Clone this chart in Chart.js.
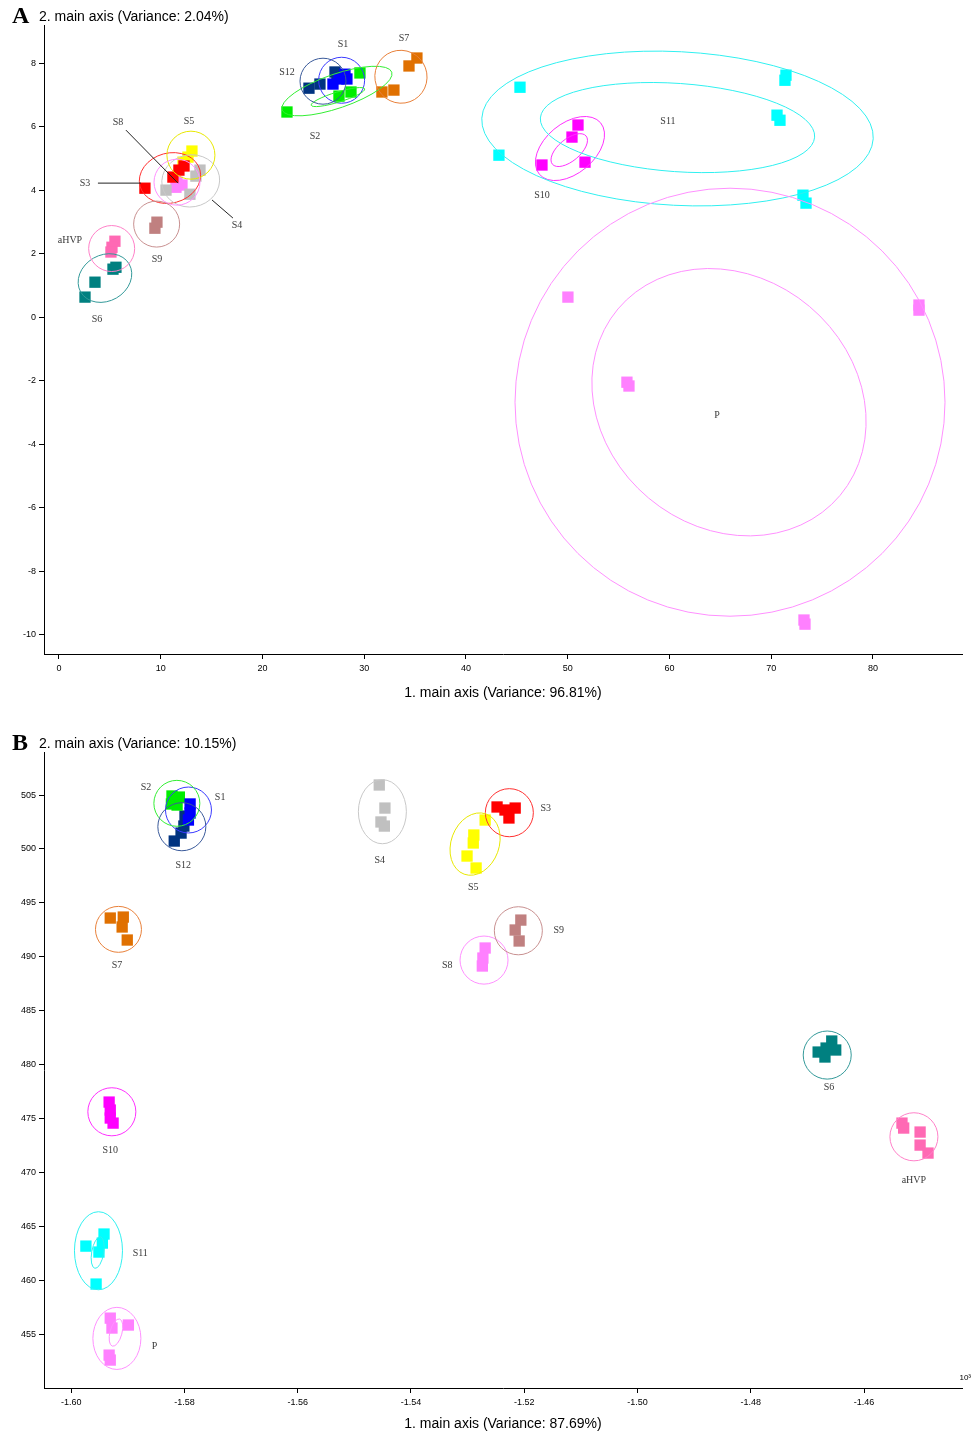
<!DOCTYPE html>
<html><head><meta charset="utf-8">
<script src="https://cdn.jsdelivr.net/npm/chart.js@4.4.1/dist/chart.umd.min.js"></script>
<style>
html,body{margin:0;padding:0;background:#fff;}
#wrap{position:relative;width:973px;height:1433px;overflow:hidden;}
canvas{position:absolute;left:0;}
</style></head><body>
<div id="wrap">
<canvas id="cA" width="973" height="716" style="top:0"></canvas>
<canvas id="cB" width="973" height="717" style="top:716px"></canvas>
</div>
<script>
// ---------- categories ----------
const groups = ['S1','S2','S3','S4','S5','S6','S7','S8','S9','S10','S11','S12','aHVP','P'];

// ---------- Panel A ----------
const A_x = [
  [26.93,27.52,28.11,28.30],
  [22.41,27.52,28.70,29.58],
  [8.45,11.20,11.79,12.29],
  [10.52,12.87,13.86,13.46],
  [13.07,12.68,12.19],
  [5.60,5.31,3.54,2.56],
  [34.40,35.18,31.74,32.92],
  [11.60,12.09,11.50],
  [9.43,9.63],
  [51.01,50.42,47.47,51.70],
  [45.31,71.35,71.45,70.57,70.86,43.24,73.12,73.42],
  [24.57,25.65,27.13,27.32],
  [5.50,5.21,5.11],
  [50.02,55.82,56.02,84.52,84.52,73.22,73.32]
];
const A_y = [
  [7.34,7.50,7.65,7.50],
  [6.46,6.96,7.09,7.69],
  [4.06,4.41,4.63,4.76],
  [4.00,3.87,4.63,4.44],
  [5.23,5.04,4.88],
  [1.57,1.51,1.10,0.63],
  [7.91,8.16,7.09,7.15],
  [4.25,4.16,4.09],
  [2.80,2.99],
  [6.05,5.67,4.79,4.88],
  [7.24,7.46,7.62,6.36,6.20,5.10,3.84,3.59],
  [7.21,7.34,7.72,7.56],
  [2.39,2.20,2.05],
  [0.63,-2.05,-2.17,0.38,0.22,-9.54,-9.67]
];
// ellipses: [group, centre x, centre y, semi-axis x-units, semi-axis y-units, tilt deg]
const A_ell = [
  [0,27.78,7.46,2.26,0.724,0],
  [1,27.32,7.12,5.70,0.535,-19],
  [1,27.42,6.93,2.75,0.16,-17],
  [2,10.91,4.38,3.05,0.787,-15],
  [3,12.95,4.29,2.85,0.82,-10],
  [4,12.97,5.10,2.36,0.756,0],
  [5,4.52,1.23,2.75,0.724,-30],
  [6,33.61,7.57,2.56,0.835,-20],
  [7,11.60,4.25,2.26,0.724,0],
  [8,9.60,2.93,2.26,0.724,0],
  [9,50.22,5.31,3.93,0.787,-40],
  [9,50.15,5.26,2.16,0.346,-40],
  [10,60.79,5.94,19.26,2.42,3],
  [10,60.79,5.97,13.51,1.39,4],
  [11,25.95,7.43,2.26,0.724,0],
  [12,5.18,2.16,2.26,0.724,0],
  [13,65.95,-2.68,21.13,6.74,0],
  [13,65.85,-2.68,14.25,3.94,40]
];
const A_lab = [
  ['S3',2.56,4.22],['S8',5.80,6.14],['S5',12.78,6.17],['S4',17.49,2.90],
  ['S9',9.63,1.83],['aHVP',1.08,2.43],['S6',3.73,-0.06],['S12',22.41,7.72],
  ['S1',27.91,8.60],['S7',33.91,8.79],['S2',25.16,5.70],['S11',59.85,6.17],
  ['S10',47.47,3.84],['P',64.67,-3.09]
];
const A_leaders = [
  [3.83,4.22,8.06,4.22],
  [6.58,5.89,11.70,4.22],
  [15.04,3.69,17.10,3.12]
];
const A_xTicks = [0,10,20,30,40,50,60,70,80];
const A_yTicks = [-10,-8,-6,-4,-2,0,2,4,6,8];

// ---------- Panel B ----------
const B_x = [
  [-1.5790,-1.5790,-1.5793],
  [-1.5822,-1.5809,-1.5823,-1.5813],
  [-1.5248,-1.5234,-1.5216,-1.5227],
  [-1.5456,-1.5446,-1.5453,-1.5447],
  [-1.5269,-1.5289,-1.5290,-1.5301,-1.5285],
  [-1.4681,-1.4667,-1.4657,-1.4650,-1.4669],
  [-1.5931,-1.5908,-1.5910,-1.5901],
  [-1.5269,-1.5273,-1.5274],
  [-1.5206,-1.5216,-1.5209],
  [-1.5933,-1.5931,-1.5931,-1.5926],
  [-1.5974,-1.5942,-1.5945,-1.5951,-1.5956],
  [-1.5799,-1.5801,-1.5806,-1.5818],
  [-1.4533,-1.4530,-1.4501,-1.4501,-1.4487],
  [-1.5931,-1.5928,-1.5899,-1.5933,-1.5931]
];
const B_y = [
  [504.17,503.33,502.68],
  [504.91,504.81,504.17,504.07],
  [503.89,503.61,503.79,502.87],
  [505.93,503.79,502.50,502.12],
  [502.68,501.29,500.55,499.34,498.23],
  [481.16,481.53,482.18,481.35,480.70],
  [493.59,493.68,492.76,491.55],
  [490.81,489.88,489.14],
  [493.40,492.48,491.46],
  [476.52,475.78,475.04,474.57],
  [463.16,464.28,463.44,462.61,459.64],
  [503.05,502.12,501.47,500.73],
  [474.57,474.11,473.74,472.53,471.79],
  [456.48,455.56,455.84,453.05,452.59]
];
const B_ell = [
  [0,-1.57929,503.61,0.00406,2.13,0],
  [1,-1.58134,504.23,0.00406,2.13,0],
  [2,-1.52263,503.36,0.00424,2.23,0],
  [3,-1.54505,503.45,0.00424,2.97,0],
  [4,-1.52868,500.45,0.00424,2.97,20],
  [5,-1.46650,480.88,0.00424,2.23,0],
  [6,-1.59165,492.54,0.00406,2.13,0],
  [7,-1.52710,489.69,0.00424,2.23,0],
  [8,-1.52104,492.41,0.00424,2.23,0],
  [9,-1.59282,475.62,0.00424,2.23,0],
  [10,-1.59518,462.73,0.00424,3.62,0],
  [10,-1.59532,462.56,0.00106,1.48,10],
  [11,-1.58046,502.06,0.00424,2.23,0],
  [12,-1.45119,473.30,0.00424,2.23,0],
  [13,-1.59193,454.60,0.00424,2.88,0],
  [13,-1.59209,455.14,0.00106,1.30,15]
];
const B_lab = [
  ['S2',-1.5868,505.74],['S1',-1.5737,504.81],['S12',-1.5802,498.51],['S4',-1.5455,498.97],
  ['S3',-1.5162,503.79],['S5',-1.5290,496.47],['S9',-1.5139,492.48],['S8',-1.5336,489.23],
  ['S7',-1.5919,489.23],['S10',-1.5931,472.07],['S11',-1.5878,462.51],['P',-1.5853,453.89],
  ['S6',-1.4662,477.91],['aHVP',-1.4512,469.29]
];
const B_xTicks = [-1.60,-1.58,-1.56,-1.54,-1.52,-1.50,-1.48,-1.46];
const B_yTicks = [455,460,465,470,475,480,485,490,495,500,505];

// ---------- styles ----------
const colors = ['#0000FF','#00EE00','#FF0000','#C0C0C0','#FFFF00','#008080','#E07000','#FF80FF','#C08080','#FF00FF','#00FFFF','#003380','#FF69B4','#FF80FF'];
const ellColors = ['#3A3AFF','#33EE33','#FF3030','#C8C8C8','#E8E800','#339999','#E8803A','#FF90FF','#C89090','#FF30FF','#30F0F0','#3A5A9A','#FF80C8','#FF90FF'];

Chart.defaults.font.family = '"Liberation Sans", Arial, sans-serif';
Chart.defaults.color = '#000';

function annotPlugin(cfg){
  return {
    id:'annot'+cfg.letter,
    afterDatasetsDraw(chart){
      const {ctx, chartArea:ca} = chart;
      const xs = chart.scales.x, ys = chart.scales.y;
      ctx.save();
      ctx.beginPath(); ctx.rect(ca.left, ca.top, ca.right-ca.left, ca.bottom-ca.top); ctx.clip();
      ctx.lineWidth = 1;
      for (const e of cfg.ellipses){
        const [g,cx,cy,rx,ry,ang] = e;
        const px = xs.getPixelForValue(cx), py = ys.getPixelForValue(cy);
        const a = Math.abs(xs.getPixelForValue(cx+rx)-px);
        const b = Math.abs(ys.getPixelForValue(cy+ry)-py);
        ctx.beginPath();
        ctx.ellipse(px,py,a,b,ang*Math.PI/180,0,Math.PI*2);
        ctx.strokeStyle = ellColors[g];
        ctx.stroke();
      }
      ctx.strokeStyle = '#222';
      for (const l of cfg.leaders){
        ctx.beginPath();
        ctx.moveTo(xs.getPixelForValue(l[0]), ys.getPixelForValue(l[1]));
        ctx.lineTo(xs.getPixelForValue(l[2]), ys.getPixelForValue(l[3]));
        ctx.stroke();
      }
      ctx.font = '10px "Liberation Serif", "Times New Roman", serif';
      ctx.fillStyle = '#3a3a3a';
      ctx.textAlign = 'center'; ctx.textBaseline = 'middle';
      for (const t of cfg.labels){
        ctx.fillText(t[0], xs.getPixelForValue(t[1]), ys.getPixelForValue(t[2]));
      }
      ctx.restore();
    },
    afterDraw(chart){
      const ctx = chart.ctx, ca = chart.chartArea;
      ctx.save();
      ctx.fillStyle = '#000';
      ctx.textBaseline = 'alphabetic'; ctx.textAlign = 'left';
      ctx.font = 'bold 24px "Liberation Serif", "Times New Roman", serif';
      ctx.fillText(cfg.letter, 12, ca.top - 2);
      ctx.font = '14px "Liberation Sans", Arial, sans-serif';
      ctx.fillText(cfg.yTitle, 39, ca.top - 4);
      if (cfg.exp){
        ctx.font = '8px "Liberation Sans", Arial, sans-serif';
        ctx.textAlign = 'right';
        ctx.fillText('10³', 971, ca.bottom - 8);
      }
      ctx.restore();
    }
  };
}

function makeChart(id, X, Y, xTicks, yTicks, xr, yr, cfg, fmt, pad, xH){
  const datasets = groups.map((g,i)=>({
    label:g,
    data:X[i].map((v,j)=>({x:v,y:Y[i][j]})),
    pointStyle:'rect', pointRadius:8, pointHoverRadius:8,
    backgroundColor:colors[i], borderColor:colors[i], borderWidth:0,
    showLine:false
  }));
  const axisCommon = {
    grid:{display:true, drawOnChartArea:false, drawTicks:true, tickLength:5, color:'#000', lineWidth:1},
    border:{display:true, color:'#000', width:1}
  };
  return new Chart(document.getElementById(id), {
    type:'scatter',
    data:{datasets},
    options:{
      responsive:false, animation:false, devicePixelRatio:1,
      layout:{padding:pad},
      plugins:{legend:{display:false}, tooltip:{enabled:false}, title:{display:false}},
      scales:{
        x:Object.assign({}, axisCommon, {
          type:'linear', min:xr[0], max:xr[1],
          afterBuildTicks:(s)=>{ s.ticks = xTicks.map(v=>({value:v})); },
          afterFit:(s)=>{ s.height = xH; },
          ticks:{font:{size:9}, color:'#000', padding:4, maxRotation:0, autoSkip:false, callback:fmt},
          title:{display:true, text:cfg.xTitle, font:{size:14}, color:'#000', padding:{top:0,bottom:cfg.xTitlePad}}
        }),
        y:Object.assign({}, axisCommon, {
          type:'linear', min:yr[0], max:yr[1],
          afterBuildTicks:(s)=>{ s.ticks = yTicks.map(v=>({value:v})); },
          afterFit:(s)=>{ s.width = 44; },
          ticks:{font:{size:9}, color:'#000', padding:3, autoSkip:false}
        })
      }
    },
    plugins:[annotPlugin(cfg)]
  });
}

makeChart('cA', A_x, A_y, A_xTicks, A_yTicks, [-1.47, 88.75], [-10.61, 9.20],
  {letter:'A', yTitle:'2. main axis (Variance: 2.04%)', xTitle:'1. main axis (Variance: 96.81%)', xTitlePad:14,
   ellipses:A_ell, labels:A_lab, leaders:A_leaders, exp:false},
  (v)=>String(v), {left:0,right:11,top:25,bottom:0}, 62);

makeChart('cB', B_x, B_y, B_xTicks, B_yTicks, [-1.6048, -1.4427], [450.0, 508.99],
  {letter:'B', yTitle:'2. main axis (Variance: 10.15%)', xTitle:'1. main axis (Variance: 87.69%)', xTitlePad:0,
   ellipses:B_ell, labels:B_lab, leaders:[], exp:true},
  (v)=>v.toFixed(2), {left:0,right:11,top:36,bottom:0}, 45);
</script>
</body></html>
